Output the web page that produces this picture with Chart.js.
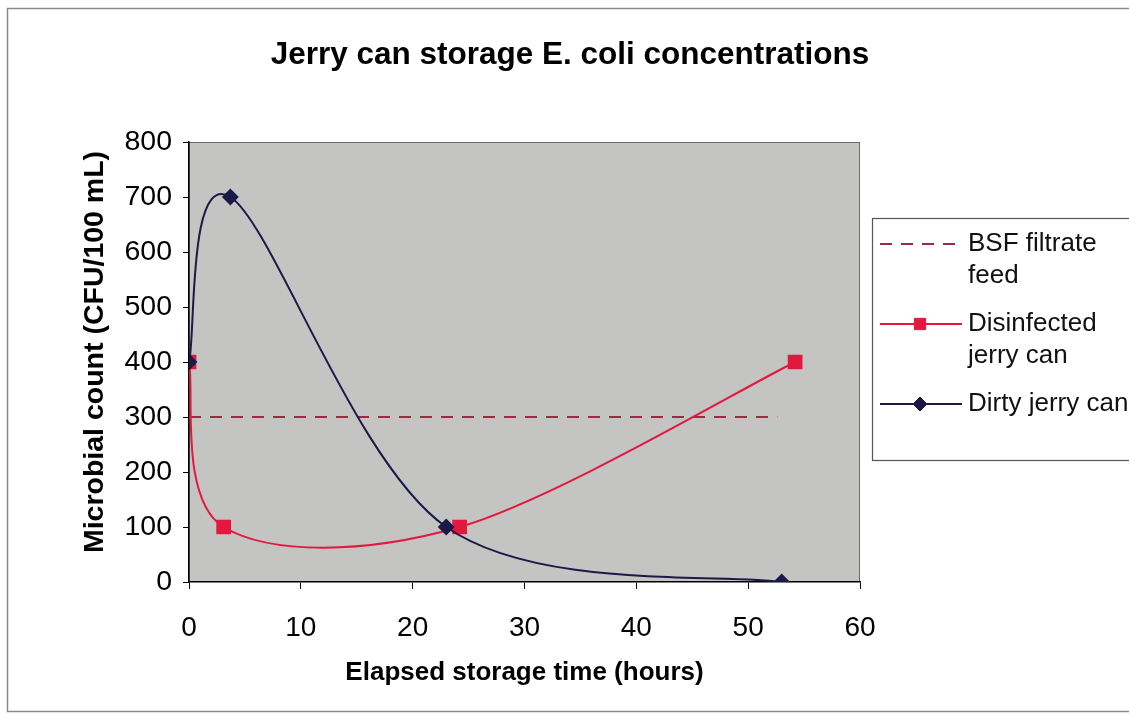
<!DOCTYPE html>
<html><head><meta charset="utf-8">
<script src="https://cdn.jsdelivr.net/npm/chart.js@4.4.1/dist/chart.umd.min.js"></script>
<style>html,body{margin:0;padding:0;background:#fff;overflow:hidden;}</style>
</head><body>
<canvas id="c" width="1129" height="715"></canvas>
<script>
const chartTitle = 'Jerry can storage E. coli concentrations';
const xAxisTitle = 'Elapsed storage time (hours)';
const yAxisTitle = 'Microbial count (CFU/100 mL)';
const xTicks = [0, 10, 20, 30, 40, 50, 60];
const yTicks = [0, 100, 200, 300, 400, 500, 600, 700, 800];
const feedHours = [0, 52.6];
const feedCounts = [300, 300];
const disinfectedHours = [0, 3.1, 24.2, 54.2];
const disinfectedCounts = [400, 100, 100, 400];
const dirtyHours = [0, 3.7, 23, 53];
const dirtyCounts = [400, 700, 100, 0];
const seriesNames = [['BSF filtrate', 'feed'], ['Disinfected', 'jerry can'], ['Dirty jerry can']];

const FONT = "'Liberation Sans', Arial, sans-serif";
const RED = '#e3183f', NAVY = '#1b1a47', MAROON = '#9c2a40';

function pts(xs, ys) { return xs.map((x, i) => ({x: x, y: ys[i]})); }

const excelSmooth = {
  id: 'excelSmooth',
  beforeDatasetDraw(chart, args) {
    const meta = args.meta;
    const line = meta.dataset;
    if (!line || !line.options || !line.options.tension) return;
    if (line.updateControlPoints) line.updateControlPoints(chart.chartArea, meta.indexAxis);
    const p = meta.data, n = p.length;
    for (let i = 0; i < n; i++) {
      const cur = p[i], prev = p[i - 1] || cur, next = p[i + 1] || cur;
      const dx = (next.x - prev.x) / 6, dy = (next.y - prev.y) / 6;
      cur.cp1x = cur.x - dx; cur.cp1y = cur.y - dy;
      cur.cp2x = cur.x + dx; cur.cp2y = cur.y + dy;
    }
    line._path = undefined;
  }
};

const frame = {
  id: 'frame',
  beforeDraw(chart) {
    const ctx = chart.ctx, a = chart.chartArea;
    ctx.save();
    ctx.fillStyle = '#fff';
    ctx.fillRect(0, 0, chart.width, chart.height);
    ctx.strokeStyle = '#8a8a8a';
    ctx.lineWidth = 1.5;
    ctx.strokeRect(7.5, 8.5, chart.width + 20, 703);
    ctx.fillStyle = '#c4c4c3';
    ctx.fillRect(a.left, a.top, a.right - a.left, a.bottom - a.top);
    ctx.strokeStyle = '#6a6a6a';
    ctx.lineWidth = 1;
    ctx.strokeRect(a.left + 0.5, a.top + 0.5, a.right - a.left - 1, a.bottom - a.top - 1);
    ctx.fillStyle = '#000';
    ctx.font = 'bold 31.5px ' + FONT;
    ctx.textAlign = 'center';
    ctx.textBaseline = 'middle';
    ctx.fillText(chartTitle, 570, 55);
    ctx.save();
    ctx.translate(95, 352);
    ctx.rotate(-Math.PI / 2);
    ctx.font = 'bold 28.5px ' + FONT;
    ctx.fillText(yAxisTitle, 0, 0);
    ctx.restore();
    ctx.restore();
  },
  afterDraw(chart) {
    const ctx = chart.ctx;
    ctx.save();
    ctx.fillStyle = '#fff';
    ctx.fillRect(872, 218, 300, 242);
    ctx.strokeStyle = '#555';
    ctx.lineWidth = 1.2;
    ctx.strokeRect(872.5, 218.5, 300, 242);
    const rows = [244, 324, 404];
    const ds = chart.data.datasets;
    ctx.font = '26px ' + FONT;
    ctx.textAlign = 'left';
    ctx.textBaseline = 'middle';
    [2, 1, 0].forEach((di, k) => {
      const d = ds[di];
      const y = rows[k];
      ctx.save();
      ctx.strokeStyle = d.borderColor;
      ctx.lineWidth = 2;
      ctx.setLineDash(d.borderDash || []);
      ctx.beginPath(); ctx.moveTo(880, y); ctx.lineTo(962, y); ctx.stroke();
      ctx.restore();
      if (d.pointRadius > 0) {
        ctx.fillStyle = d.pointBackgroundColor;
        ctx.strokeStyle = d.pointBorderColor;
        ctx.lineWidth = 1;
        Chart.helpers.drawPoint(ctx, {pointStyle: d.pointStyle, radius: d.pointStyle === 'rect' ? 8 : 7, borderWidth: 1, rotation: 0}, 920, y);
      }
      ctx.fillStyle = '#111';
      seriesNames[k].forEach((t, j) => ctx.fillText(t, 968, y + j * 32));
    });
    ctx.restore();
  }
};

new Chart(document.getElementById('c'), {
  type: 'line',
  data: {
    datasets: [
      {label: seriesNames[2].join(' '), data: pts(dirtyHours, dirtyCounts), borderColor: NAVY, backgroundColor: NAVY,
       borderWidth: 2, tension: 0.4, pointStyle: 'rectRot', pointRadius: 7, pointBackgroundColor: NAVY, pointBorderColor: NAVY, order: 0},
      {label: seriesNames[1].join(' '), data: pts(disinfectedHours, disinfectedCounts), borderColor: RED, backgroundColor: RED,
       borderWidth: 2, tension: 0.4, pointStyle: 'rect', pointRadius: 9, pointBackgroundColor: RED, pointBorderColor: RED, order: 1},
      {label: seriesNames[0].join(' '), data: pts(feedHours, feedCounts), borderColor: MAROON, backgroundColor: MAROON,
       borderWidth: 2, borderDash: [12, 9], tension: 0, pointRadius: 0, order: 2}
    ]
  },
  options: {
    responsive: false,
    animation: false,
    layout: {padding: {left: 0, top: 142, right: 269, bottom: 0}},
    plugins: {legend: {display: false}, title: {display: false}, tooltip: {enabled: false}},
    scales: {
      x: {
        type: 'linear', min: 0, max: 60,
        afterBuildTicks: s => { s.ticks = xTicks.map(v => ({value: v})); },
        afterFit: s => { s.height = 133; },
        grid: {drawOnChartArea: false, drawTicks: true, tickLength: 7, tickColor: '#000', tickWidth: 1},
        border: {display: true, color: '#000', width: 1.5},
        ticks: {color: '#000', padding: 22, font: {family: FONT, size: 28}, maxRotation: 0},
        title: {display: true, text: xAxisTitle, color: '#000', font: {family: FONT, size: 26, weight: 'bold'}, padding: {top: 10, bottom: 27}}
      },
      y: {
        type: 'linear', min: 0, max: 800,
        afterBuildTicks: s => { s.ticks = yTicks.map(v => ({value: v})); },
        afterFit: s => { s.width = 189; },
        grid: {drawOnChartArea: false, drawTicks: true, tickLength: 6, tickColor: '#000', tickWidth: 1},
        border: {display: true, color: '#000', width: 1.5},
        ticks: {color: '#000', padding: 11, font: {family: FONT, size: 28.5}},
        title: {display: false}
      }
    }
  },
  plugins: [frame, excelSmooth]
});
</script>
</body></html>
